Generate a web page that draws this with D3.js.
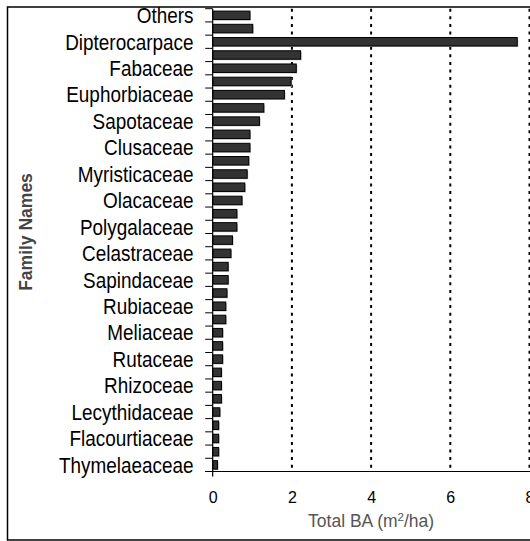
<!DOCTYPE html>
<html>
<head>
<meta charset="utf-8">
<script src="https://cdn.jsdelivr.net/npm/d3@7"></script>
<style>
  body { margin: 0; background: #fff; }
  svg { display: block; font-family: "Liberation Sans", Arial, sans-serif; }
</style>
</head>
<body>
<div id="chart"></div>
<script>
// labels shown on every other bar, top to bottom
var familyLabels = ["Others", "Dipterocarpace", "Fabaceae", "Euphorbiaceae", "Sapotaceae",
    "Clusaceae", "Myristicaceae", "Olacaceae", "Polygalaceae", "Celastraceae", "Sapindaceae",
    "Rubiaceae", "Meliaceae", "Rutaceae", "Rhizoceae", "Lecythidaceae", "Flacourtiaceae",
    "Thymelaeaceae"];

// total basal area (m2/ha), one per bar, top to bottom
var totalBA = [0.94, 1.01, 7.69, 2.22, 2.11, 1.98, 1.81, 1.29, 1.18, 0.94,
    0.94, 0.91, 0.87, 0.81, 0.74, 0.61, 0.61, 0.50, 0.46, 0.39,
    0.39, 0.36, 0.33, 0.33, 0.25, 0.25, 0.25, 0.22, 0.22, 0.22,
    0.18, 0.15, 0.15, 0.15, 0.12];

var xTicks = [0, 2, 4, 6, 8];

var width = 530, height = 541;
var margin = {top: 8.7, right: 0.5, bottom: 69.5, left: 212.7};

var svg = d3.select("#chart")
    .append("svg")
    .attr("width", width)
    .attr("height", height);

// chart border
svg.append("rect")
    .attr("x", 7.5)
    .attr("y", 7)
    .attr("width", 540)
    .attr("height", 533)
    .attr("fill", "none")
    .attr("stroke", "#000")
    .attr("stroke-width", 1.5);

var x = d3.scaleLinear()
    .domain([0, 8])
    .range([margin.left, width - margin.right]);

var idx = d3.range(totalBA.length);
var y = d3.scaleBand()
    .domain(idx)
    .range([margin.top, height - margin.bottom])
    .paddingInner(0.36)
    .paddingOuter(0.18);

// category boundaries for the y tick marks
var yb = d3.scaleLinear()
    .domain([0, totalBA.length])
    .range([margin.top, height - margin.bottom]);

// dotted gridlines
svg.append("g")
    .selectAll("line")
    .data(xTicks.slice(1)).enter()
    .append("line")
    .attr("x1", function(d){ return x(d); })
    .attr("x2", function(d){ return x(d); })
    .attr("y1", margin.top)
    .attr("y2", height - margin.bottom)
    .attr("stroke", "#000")
    .attr("stroke-width", 2)
    .attr("stroke-dasharray", "3,4.6");

// bars (with a faint shadow)
svg.append("g")
    .selectAll("rect")
    .data(totalBA).enter()
    .append("rect")
    .attr("x", x(0) + 1)
    .attr("y", function(d, i){ return y(i) + 1; })
    .attr("width", function(d){ return x(d) - x(0); })
    .attr("height", y.bandwidth())
    .attr("fill", "#b0b0b0");

svg.append("g")
    .selectAll("rect")
    .data(totalBA).enter()
    .append("rect")
    .attr("x", x(0))
    .attr("y", function(d, i){ return y(i); })
    .attr("width", function(d){ return x(d) - x(0); })
    .attr("height", y.bandwidth())
    .attr("fill", "#333")
    .attr("stroke", "#000")
    .attr("stroke-width", 1);

// y axis line and tick marks
svg.append("line")
    .attr("x1", x(0)).attr("x2", x(0))
    .attr("y1", margin.top).attr("y2", height - margin.bottom + 5)
    .attr("stroke", "#000").attr("stroke-width", 1.2);

svg.append("g")
    .selectAll("line")
    .data(d3.range(totalBA.length + 1)).enter()
    .append("line")
    .attr("x1", x(0) - 7.5)
    .attr("x2", x(0))
    .attr("y1", function(d){ return yb(d); })
    .attr("y2", function(d){ return yb(d); })
    .attr("stroke", "#000")
    .attr("stroke-width", 1);

// category labels on every other bar (narrow, tall glyphs as in the source)
svg.append("g")
    .selectAll("text")
    .data(familyLabels).enter()
    .append("text")
    .attr("transform", function(d, i){
        return "translate(193.5," + (y(i * 2) + y.bandwidth() / 2) + ") scale(0.88,1)";
    })
    .attr("dy", ".36em")
    .attr("text-anchor", "end")
    .attr("font-size", 21.5)
    .attr("fill", "#000")
    .text(function(d){ return d; });

// x axis
var xAxis = d3.axisBottom(x)
    .tickValues(xTicks)
    .tickSize(0)
    .tickPadding(0);

var gx = svg.append("g")
    .attr("transform", "translate(0," + (height - margin.bottom) + ")")
    .call(xAxis);
gx.select(".domain").remove();
gx.selectAll("text")
    .attr("y", 31.5)
    .attr("dy", 0)
    .attr("font-size", 16)
    .attr("font-family", "Liberation Sans, Arial, sans-serif")
    .attr("fill", "#000");

svg.append("line")
    .attr("x1", x(0) - 7.5).attr("x2", width)
    .attr("y1", height - margin.bottom).attr("y2", height - margin.bottom)
    .attr("stroke", "#000").attr("stroke-width", 1.2);

// axis titles
var xTitle = svg.append("text")
    .attr("x", (x(0) + x(8)) / 2)
    .attr("y", 527)
    .attr("text-anchor", "middle")
    .attr("font-size", 17.5)
    .attr("fill", "#555");
xTitle.append("tspan").text("Total BA (m");
xTitle.append("tspan").attr("font-size", 11.5).attr("dy", -6.5).text("2");
xTitle.append("tspan").attr("dy", 6.5).text("/ha)");

svg.append("text")
    .attr("transform", "translate(32," + 232 + ") rotate(-90)")
    .attr("text-anchor", "middle")
    .attr("font-size", 17.5)
    .attr("font-weight", "bold")
    .attr("fill", "#444")
    .text("Family Names");
</script>
</body>
</html>
